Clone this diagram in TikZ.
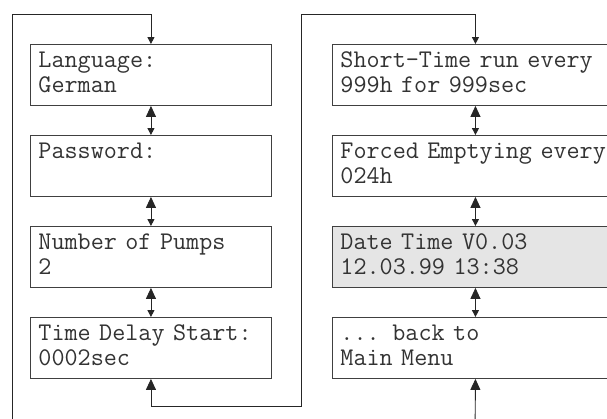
\documentclass[tikz,border=0pt]{standalone}
\usetikzlibrary{arrows.meta}
\newcommand{\lnstrut}{\rule[-5.5pt]{0pt}{19.5pt}}
\begin{document}
\begin{tikzpicture}[x=1pt,y=-1pt,
  box/.style={draw=black!75, line width=0.9pt, anchor=north west,
    minimum height=61pt, inner xsep=8pt, inner ysep=0pt, align=left,
    font=\ttfamily\fontsize{25.4}{25}\selectfont, text=black!80},
  lbox/.style={box, minimum width=241pt, text width=225pt},
  rbox/.style={box, minimum width=286pt, text width=270pt},
  conn/.style={draw=black!85, line width=0.9pt},
  dbl/.style={arrows={Triangle[width=10pt,length=11pt]-Triangle[width=7pt,length=7pt]}},
  downin/.style={arrows={-Triangle[width=7pt,length=7pt]}},
  upin/.style={arrows={-Triangle[width=10pt,length=11pt]}}
]
\useasboundingbox (0,0) rectangle (607,418);
\clip (0,0) rectangle (607,418);
\fill[white] (0,0) rectangle (607,418);

% left column
\node[lbox] (L1) at (30,44)  {\lnstrut Language:\\\lnstrut German};
\node[lbox] (L2) at (30,135) {\lnstrut Password:\\\lnstrut};
\node[lbox] (L3) at (30,226) {\lnstrut Number of Pumps\\\lnstrut 2};
\node[lbox] (L4) at (30,317) {\lnstrut Time Delay Start:\\\lnstrut 0002sec};

% right column
\node[rbox] (R1) at (332,44)  {\lnstrut\mbox{Short-Time run every}\\\lnstrut\mbox{999h for 999sec}};
\node[rbox] (R2) at (332,135) {\lnstrut\mbox{Forced Emptying every}\\\lnstrut 024h};
\node[rbox, fill=black!10] (R3) at (332,226) {\lnstrut\mbox{Date Time V0.03}\\\lnstrut\mbox{12.03.99 13:38}};
\node[rbox] (R4) at (332,317) {\lnstrut\mbox{... back to}\\\lnstrut\mbox{Main Menu}};

% coordinates of the loops
\coordinate (inL) at (12,440);
\coordinate (topL) at (12,14);
\coordinate (botM) at (301.5,406);
\coordinate (topM) at (301.5,14);
\coordinate (inR) at (475,440);

% connectors
\draw[conn, downin] (inL) -- (topL) -| (L1.north);
\draw[conn, dbl] (L1.south) -- (L2.north);
\draw[conn, dbl] (L2.south) -- (L3.north);
\draw[conn, dbl] (L3.south) -- (L4.north);
\draw[conn, dbl] (L4.south) |- (botM) -- (topM) -| (R1.north);
\draw[conn, dbl] (R1.south) -- (R2.north);
\draw[conn, dbl] (R2.south) -- (R3.north);
\draw[conn, dbl] (R3.south) -- (R4.north);
\draw[conn, upin] (inR) -- (R4.south);
\end{tikzpicture}
\end{document}
